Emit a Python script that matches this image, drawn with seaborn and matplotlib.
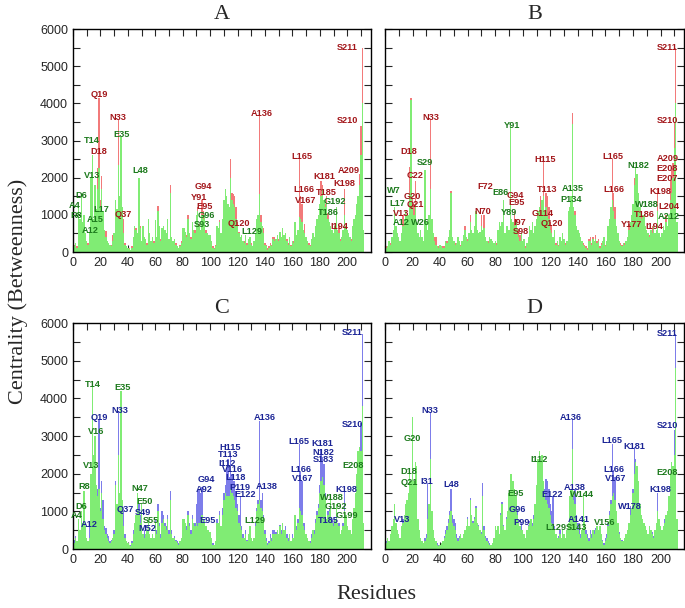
import pandas as pd
import seaborn as sns
import matplotlib.pyplot as plt
from matplotlib.ticker import MultipleLocator

residues = list(range(1, 213))

# panel A : green = first network, red = second
A_green = [150, 250, 100, 1250, 900, 1500, 800, 1000, 500, 300,
           200, 550, 2000, 2600, 900, 1800, 1150, 1700, 2250, 1200,
           1700, 1100, 600, 400, 300, 250, 200, 150, 300, 500,
           1400, 1150, 2350, 1500, 3100, 1200, 500, 200, 150, 100,
           80, 60, 100, 400, 700, 600, 500, 2000, 650, 300,
           700, 400, 350, 200, 900, 500, 300, 400, 250, 850,
           400, 1100, 700, 300, 650, 700, 600, 500, 900, 350,
           1600, 400, 300, 350, 200, 150, 100, 150, 250, 650,
           650, 550, 400, 900, 500, 350, 800, 600, 500, 1000,
           1100, 700, 600, 1000, 900, 1000, 500, 500, 450, 450,
           300, 100, 80, 150, 700, 650, 800, 500, 900, 1400,
           1700, 1500, 1300, 1200, 2000, 1400, 1300, 1200, 900, 700,
           500, 400, 450, 300, 250, 450, 200, 350, 400, 200,
           150, 300, 500, 900, 1000, 1550, 800, 700, 500, 200,
           150, 50, 100, 200, 150, 350, 300, 350, 450, 300,
           550, 400, 650, 450, 500, 300, 200, 400, 150, 300,
           250, 800, 450, 600, 950, 900, 800, 600, 500, 400,
           300, 200, 150, 350, 500, 400, 700, 900, 1000, 1300,
           1500, 1700, 1400, 1200, 1300, 900, 800, 700, 600, 500,
           700, 1200, 600, 500, 300, 400, 600, 1000, 700, 600,
           500, 400, 300, 700, 900, 1000, 1300, 1500, 1800, 2600,
           4000, 600]
A_red = [200, 200, 150, 1000, 800, 1300, 700, 900, 400, 300,
         250, 500, 1600, 2000, 800, 1500, 1000, 2250, 4150, 1400,
         2050, 1000, 550, 570, 250, 200, 150, 200, 450, 400,
         1400, 1000, 3550, 1300, 2400, 1000, 900, 250, 150, 100,
         100, 50, 150, 300, 600, 650, 450, 1500, 700, 250,
         600, 350, 300, 250, 800, 450, 300, 350, 300, 800,
         350, 1250, 650, 350, 600, 650, 550, 450, 800, 300,
         1800, 350, 250, 300, 250, 100, 120, 200, 300, 600,
         600, 500, 450, 1000, 450, 400, 750, 550, 600, 900,
         1200, 750, 550, 1400, 1100, 800, 600, 450, 400, 400,
         250, 150, 100, 200, 650, 600, 850, 450, 800, 1300,
         1700, 1400, 1200, 1100, 2500, 1600, 1550, 1500, 1200, 800,
         550, 350, 400, 300, 300, 400, 250, 300, 350, 250,
         150, 250, 450, 800, 1000, 3650, 1000, 600, 650, 250,
         200, 100, 150, 250, 200, 400, 400, 350, 400, 350,
         500, 350, 600, 400, 450, 350, 250, 350, 200, 250,
         300, 700, 400, 550, 2500, 1500, 1300, 550, 750, 350,
         250, 250, 200, 300, 450, 350, 650, 800, 950, 1200,
         1900, 1800, 1300, 1300, 1500, 1050, 750, 650, 550, 450,
         600, 1000, 550, 700, 350, 350, 550, 1700, 650, 550,
         450, 350, 350, 650, 800, 950, 1200, 1400, 2100, 3400,
         5500, 500]

# panel B
B_green = [100, 150, 300, 200, 400, 600, 1200, 700, 500, 400,
           300, 500, 700, 900, 1100, 1000, 1000, 1600, 4100, 1200,
           1000, 1300, 800, 500, 400, 600, 400, 300, 2200, 800,
           600, 1000, 1700, 900, 500, 300, 200, 150, 100, 200,
           150, 100, 100, 300, 250, 400, 600, 1600, 400, 300,
           200, 250, 400, 300, 150, 300, 450, 600, 400, 300,
           500, 800, 600, 500, 700, 1100, 600, 500, 550, 700,
           600, 650, 400, 300, 250, 400, 350, 300, 250, 300,
           200, 600, 800, 700, 800, 1400, 500, 700, 700, 600,
           3400, 900, 800, 700, 800, 600, 400, 300, 500, 300,
           350, 100, 250, 400, 700, 600, 800, 500, 700, 900,
           1100, 1200, 1000, 1400, 1500, 1100, 1200, 1000, 900, 600,
           500, 400, 600, 200, 300, 150, 400, 300, 500, 350,
           200, 300, 1100, 1200, 1500, 3450, 1200, 1000, 700, 600,
           500, 400, 300, 200, 150, 100, 50, 300, 300, 200,
           350, 300, 350, 250, 300, 100, 200, 300, 400, 150,
           300, 700, 900, 1200, 1400, 1100, 900, 700, 500, 300,
           200, 150, 250, 200, 300, 400, 600, 800, 1000, 1300,
           1800, 2300, 2100, 1600, 1200, 900, 1000, 1000, 700, 600,
           500, 400, 600, 500, 700, 500, 600, 1100, 500, 400,
           500, 700, 600, 800, 700, 1000, 1400, 1600, 2000, 2800,
           4000, 800]
B_red = [150, 100, 250, 250, 350, 500, 1000, 600, 450, 350,
         250, 450, 1000, 800, 1000, 900, 900, 2300, 4150, 1450,
         1300, 1900, 700, 450, 350, 500, 350, 250, 1900, 700,
         550, 900, 3550, 800, 450, 400, 400, 100, 150, 150,
         100, 150, 150, 250, 300, 350, 550, 1650, 350, 250,
         250, 200, 350, 250, 200, 250, 400, 700, 350, 350,
         450, 1000, 550, 450, 650, 1000, 550, 450, 500, 1000,
         550, 1000, 350, 250, 300, 350, 300, 250, 200, 250,
         250, 550, 700, 650, 750, 1300, 450, 650, 650, 550,
         3300, 800, 750, 1100, 900, 550, 600, 450, 450, 250,
         300, 150, 200, 350, 650, 550, 800, 450, 650, 850,
         1000, 1100, 1500, 1300, 2450, 1000, 1600, 1500, 1200, 800,
         700, 350, 550, 250, 250, 200, 350, 250, 450, 300,
         250, 250, 1000, 1100, 1400, 3750, 1100, 1100, 650, 550,
         450, 350, 250, 250, 200, 150, 100, 350, 400, 250,
         400, 250, 450, 300, 350, 150, 250, 250, 350, 200,
         250, 650, 800, 1100, 2500, 1600, 1200, 650, 450, 250,
         250, 200, 200, 250, 250, 350, 750, 750, 900, 1200,
         2000, 2200, 1900, 1500, 1100, 1100, 900, 950, 650, 550,
         450, 450, 550, 700, 650, 450, 550, 1700, 450, 350,
         450, 650, 550, 1000, 650, 900, 1900, 2200, 2400, 3500,
         5500, 700]

# panel C : green vs blue
C_green = [150, 300, 200, 800, 500, 1000, 700, 1550, 600, 300,
           200, 300, 2000, 4300, 2500, 3000, 1700, 1400, 1600, 1000,
           1500, 800, 500, 400, 300, 200, 150, 200, 300, 400,
           1700, 1200, 2500, 1500, 4200, 1300, 600, 300, 200, 150,
           100, 80, 150, 400, 700, 900, 1500, 1000, 700, 1200,
           400, 300, 400, 500, 800, 400, 300, 400, 300, 700,
           400, 1000, 600, 300, 700, 800, 600, 500, 800, 400,
           1300, 400, 300, 300, 200, 150, 100, 200, 300, 800,
           800, 700, 500, 900, 600, 400, 800, 700, 600, 700,
           600, 700, 800, 900, 700, 800, 600, 500, 500, 450,
           300, 100, 100, 200, 700, 700, 900, 600, 900, 1300,
           1500, 1400, 1400, 1400, 1600, 1500, 1400, 1300, 1100, 1000,
           700, 600, 500, 300, 300, 400, 200, 400, 600, 300,
           200, 300, 600, 1000, 1200, 1300, 1100, 1000, 800, 400,
           200, 100, 150, 300, 200, 400, 400, 400, 500, 400,
           600, 400, 700, 500, 500, 300, 200, 400, 200, 300,
           300, 900, 500, 700, 1100, 1000, 900, 600, 500, 400,
           300, 200, 150, 300, 500, 400, 700, 900, 1100, 1500,
           1800, 1900, 1700, 1300, 800, 900, 1000, 1300, 700, 600,
           800, 1200, 700, 600, 400, 500, 600, 1000, 900, 600,
           500, 500, 400, 800, 1100, 1500, 2000, 2600, 2700, 2600,
           3800, 700]
C_blue = [250, 350, 200, 500, 400, 600, 500, 600, 400, 300,
          200, 650, 900, 1000, 1200, 1300, 1400, 1600, 3450, 1100,
          1800, 1300, 600, 550, 400, 350, 200, 250, 300, 500,
          1800, 1100, 3650, 1300, 2000, 1200, 1000, 400, 200, 150,
          100, 100, 200, 500, 600, 700, 1000, 1200, 900, 800,
          400, 500, 350, 400, 600, 350, 300, 400, 300, 800,
          500, 1200, 700, 400, 1000, 900, 700, 600, 900, 500,
          1550, 500, 300, 350, 250, 200, 150, 200, 250, 800,
          700, 700, 600, 1000, 700, 500, 900, 700, 700, 1200,
          1550, 1600, 1500, 1650, 800, 700, 500, 500, 450, 450,
          300, 150, 100, 200, 800, 700, 1000, 600, 1100, 1500,
          1700, 2150, 2400, 1900, 2550, 2000, 1800, 1800, 1550, 1200,
          900, 1400, 600, 400, 300, 500, 250, 400, 500, 300,
          200, 300, 700, 1100, 1300, 3400, 1300, 1500, 900, 500,
          300, 150, 200, 400, 300, 500, 500, 450, 500, 400,
          650, 500, 700, 500, 600, 400, 300, 400, 200, 400,
          300, 900, 600, 800, 2800, 2050, 1800, 700, 700, 400,
          300, 200, 200, 400, 500, 500, 800, 1000, 1200, 1700,
          2650, 2450, 2250, 1500, 700, 1000, 1100, 1400, 800, 700,
          800, 1000, 700, 700, 400, 500, 700, 1550, 800, 600,
          500, 400, 400, 800, 1000, 1400, 1900, 2400, 2500, 3350,
          5700, 700]

# panel D
D_green = [150, 300, 200, 400, 600, 800, 1200, 700, 500, 400,
           300, 600, 700, 900, 1200, 1300, 1500, 2000, 1800, 3500,
           1800, 2300, 2200, 800, 500, 300, 200, 150, 200, 300,
           800, 1200, 2400, 1000, 500, 300, 200, 100, 80, 100,
           150, 200, 300, 400, 500, 700, 900, 1000, 700, 600,
           500, 300, 200, 300, 400, 300, 400, 500, 600, 800,
           600, 1300, 900, 700, 800, 1100, 700, 600, 500, 400,
           1400, 500, 300, 200, 150, 100, 100, 150, 300, 600,
           500, 600, 400, 900, 1200, 600, 500, 800, 1000, 1500,
           2000, 2000, 1800, 1600, 1400, 900, 700, 600, 500, 500,
           400, 300, 500, 600, 700, 800, 600, 800, 1200, 1700,
           2400, 2600, 2300, 2500, 1800, 1500, 1300, 1200, 1100, 900,
           700, 600, 500, 400, 300, 300, 400, 300, 500, 400,
           300, 500, 700, 1400, 1600, 2650, 1300, 1200, 800, 500,
           400, 300, 500, 1500, 800, 400, 300, 200, 400, 300,
           500, 400, 500, 600, 500, 600, 400, 200, 100, 200,
           300, 600, 900, 1200, 1400, 1500, 1300, 1000, 700, 400,
           300, 200, 200, 300, 400, 500, 700, 900, 1100, 1500,
           2000, 2300, 2200, 1800, 1200, 900, 800, 700, 600, 500,
           400, 600, 500, 400, 300, 500, 700, 1000, 800, 600,
           500, 600, 700, 900, 1000, 1400, 2000, 2300, 2200, 2500,
           4800, 800]
D_blue = [200, 250, 150, 300, 500, 700, 900, 600, 500, 350,
          300, 500, 800, 800, 1000, 1200, 1300, 1900, 1700, 3300,
          1700, 2200, 2000, 700, 500, 300, 200, 150, 300, 400,
          1750, 1100, 3650, 900, 500, 300, 200, 150, 100, 100,
          150, 200, 350, 500, 600, 800, 1000, 1600, 900, 800,
          700, 400, 300, 350, 400, 300, 400, 500, 600, 850,
          600, 1350, 900, 750, 850, 1150, 700, 650, 500, 450,
          1750, 600, 350, 300, 200, 150, 100, 150, 300, 600,
          500, 550, 400, 950, 1250, 650, 500, 850, 1000, 1450,
          1900, 2000, 1700, 1500, 1300, 1050, 700, 600, 700, 500,
          400, 300, 500, 650, 750, 800, 700, 900, 1200, 1700,
          2300, 2500, 2300, 2400, 1800, 1600, 1850, 1800, 1600, 1200,
          1000, 1400, 600, 400, 300, 350, 500, 300, 450, 400,
          300, 500, 700, 1400, 1600, 3450, 1400, 1600, 900, 700,
          700, 400, 450, 1400, 700, 500, 400, 300, 500, 400,
          500, 500, 550, 600, 500, 500, 400, 250, 150, 300,
          400, 700, 1000, 1300, 2800, 2100, 1900, 1000, 700, 450,
          300, 250, 200, 300, 400, 500, 700, 1150, 1100, 1600,
          2700, 2400, 2200, 1800, 1200, 900, 800, 700, 600, 500,
          400, 600, 500, 450, 350, 500, 700, 1500, 800, 600,
          500, 600, 800, 900, 1000, 1400, 2000, 2200, 2100, 3150,
          5700, 800]

# residue labels: (text, x, y, colour: g = green, o = other series)
labels_A = [("Q19", 19.5, 4250, "o"), ("N33", 33, 3620, "o"), ("E35", 35.5, 3150, "g"),
            ("T14", 14, 2990, "g"), ("D18", 19, 2700, "o"), ("L48", 49, 2190, "g"),
            ("V13", 14, 2070, "g"), ("D6", 6, 1510, "g"), ("A4", 1, 1260, "g"),
            ("R8", 2, 990, "g"), ("L17", 20.5, 1140, "g"), ("A15", 16, 880, "g"),
            ("Q37", 37, 1020, "o"), ("A12", 12.5, 570, "g"), ("A136", 138, 3730, "o"),
            ("G94", 95, 1750, "o"), ("Y91", 92, 1480, "o"), ("E95", 96, 1220, "o"),
            ("G96", 97.5, 990, "g"), ("S93", 94, 750, "g"), ("Q120", 121, 780, "o"),
            ("L129", 130.5, 540, "g"), ("L165", 167, 2560, "o"), ("L166", 168.5, 1680, "o"),
            ("V167", 170, 1390, "o"), ("K181", 183, 2040, "o"), ("T185", 185, 1590, "o"),
            ("T186", 186, 1050, "g"), ("G192", 191, 1350, "g"), ("I194", 194.5, 675, "o"),
            ("K198", 198, 1840, "o"), ("A209", 201, 2190, "o"), ("S210", 200, 3550, "o"),
            ("S211", 200, 5500, "o")]
labels_B = [("D18", 17.5, 2700, "o"), ("N33", 33, 3630, "o"), ("S29", 29, 2400, "g"),
            ("C22", 22, 2070, "o"), ("W7", 6.6, 1650, "g"), ("G20", 20, 1490, "o"),
            ("L17", 9, 1300, "g"), ("Q21", 22, 1280, "o"), ("V13", 11.5, 1040, "o"),
            ("A12", 11.5, 790, "g"), ("W26", 26, 790, "g"), ("F72", 73, 1770, "o"),
            ("E86", 83.5, 1600, "g"), ("G94", 94.5, 1530, "o"), ("E95", 95.5, 1320, "o"),
            ("N70", 70.7, 1080, "o"), ("Y89", 90, 1050, "g"), ("I97", 98, 790, "o"),
            ("S98", 98.5, 540, "o"), ("Y91", 92, 3400, "g"), ("H115", 116.3, 2480, "o"),
            ("T113", 117.5, 1690, "o"), ("G114", 114.4, 1040, "o"), ("Q120", 121, 780, "o"),
            ("A135", 136.6, 1710, "g"), ("P134", 135.4, 1400, "g"), ("L165", 165.7, 2570, "o"),
            ("L166", 166, 1680, "o"), ("N182", 183.7, 2320, "g"), ("A209", 205, 2520, "o"),
            ("E208", 205, 2250, "o"), ("E207", 205, 1980, "o"), ("K198", 200, 1640, "o"),
            ("W188", 190, 1290, "g"), ("L204", 206, 1220, "o"), ("T186", 188, 1010, "o"),
            ("A212", 206, 950, "g"), ("Y177", 179, 750, "o"), ("I194", 195.5, 680, "o"),
            ("S210", 205, 3540, "o"), ("S211", 205, 5510, "o")]
labels_C = [("T14", 14.5, 4380, "g"), ("E35", 36.5, 4290, "g"), ("Q19", 19.5, 3500, "o"),
            ("N33", 34, 3680, "o"), ("V16", 16.5, 3120, "g"), ("V13", 13, 2230, "g"),
            ("R8", 8, 1660, "g"), ("D6", 6, 1140, "g"), ("A4", 3, 880, "g"),
            ("A12", 12, 640, "o"), ("N47", 49, 1600, "g"), ("E50", 52, 1260, "g"),
            ("Q37", 38, 1050, "o"), ("S49", 51, 975, "o"), ("S55", 56.5, 770, "g"),
            ("M52", 54, 550, "o"), ("G94", 97, 1850, "o"), ("A92", 95.5, 1570, "o"),
            ("E95", 98, 770, "o"), ("H115", 114.5, 2700, "o"), ("T113", 113, 2500, "o"),
            ("I112", 112.5, 2280, "o"), ("V116", 116.5, 2100, "o"), ("L118", 118.5, 1900, "o"),
            ("P119", 121.5, 1630, "o"), ("E122", 125.5, 1460, "o"), ("A138", 141, 1660, "o"),
            ("A136", 140, 3490, "o"), ("L129", 132.5, 770, "g"), ("L165", 165, 2850, "o"),
            ("L166", 166.5, 2100, "o"), ("V167", 167.5, 1880, "o"), ("K181", 182, 2810, "o"),
            ("N182", 182.5, 2560, "o"), ("S183", 182.5, 2370, "o"), ("S211", 204, 5740, "o"),
            ("S210", 203.5, 3300, "o"), ("E208", 204, 2210, "g"), ("K198", 199, 1570, "o"),
            ("W188", 189, 1370, "g"), ("G192", 192, 1140, "g"), ("G199", 200, 900, "g"),
            ("T185", 186, 770, "o")]
labels_D = [("N33", 32.5, 3680, "o"), ("G20", 19.8, 2940, "g"), ("D18", 17.6, 2060, "g"),
            ("Q21", 18, 1770, "g"), ("I31", 30.6, 1790, "o"), ("L48", 48, 1720, "o"),
            ("V13", 12.8, 790, "o"), ("E95", 95, 1480, "g"), ("G96", 96, 1050, "o"),
            ("P99", 98.8, 710, "o"), ("I112", 112, 2380, "g"), ("E122", 121.5, 1460, "o"),
            ("A138", 137.5, 1640, "o"), ("W144", 143, 1450, "g"), ("A136", 135, 3490, "o"),
            ("A141", 140.5, 790, "o"), ("L129", 124, 580, "g"), ("S143", 139, 580, "g"),
            ("V156", 159.5, 710, "g"), ("L165", 165, 2870, "o"), ("K181", 181, 2720, "o"),
            ("L166", 166, 2100, "o"), ("V167", 167.5, 1880, "o"), ("W178", 178, 1140, "o"),
            ("K198", 199.5, 1570, "o"), ("E208", 205, 2040, "g"), ("S210", 205, 3270, "o"),
            ("S211", 205, 5720, "o")]

GREEN = "#80ec74"
RED = "#f27a7a"
BLUE = "#7d7dea"
TXT_GREEN = "#1d7a1d"
TXT_RED = "#a3161a"
TXT_BLUE = "#1c2596"

sns.set_style("ticks")
plt.rcParams["font.family"] = ["Liberation Sans", "DejaVu Sans"]


def draw_panel(ax, back, front, back_col, txt_col, labels, title, show_y):
    df = pd.DataFrame({"res": residues, "back": back, "front": front})
    sns.barplot(data=df, x="res", y="back", native_scale=True, width=1,
                color=back_col, saturation=1, errorbar=None, linewidth=0, ax=ax)
    sns.barplot(data=df, x="res", y="front", native_scale=True, width=1,
                color=GREEN, saturation=1, errorbar=None, linewidth=0, ax=ax)
    for text, x, y, c in labels:
        ax.text(x, y, text, ha="center", va="center", fontsize=6.6, fontweight="bold",
                color=TXT_GREEN if c == "g" else txt_col)
    ax.set_xlim(0, 217)
    ax.set_ylim(0, 6000)
    ax.xaxis.set_major_locator(MultipleLocator(20))
    ax.xaxis.set_minor_locator(MultipleLocator(10))
    ax.yaxis.set_major_locator(MultipleLocator(1000))
    ax.yaxis.set_minor_locator(MultipleLocator(500))
    ax.tick_params(which="both", direction="in", top=True, right=True, labelsize=9,
                   length=5, width=0.8)
    if not show_y:
        ax.set_yticklabels([])
    ax.set_xlabel("")
    ax.set_ylabel("")
    for s in ax.spines.values():
        s.set_linewidth(1.0)
        s.set_color("black")
    ax.set_title(title, fontsize=16, family="Liberation Serif", pad=7)


fig = plt.figure(figsize=(6.85, 6.08), dpi=100)
axA = fig.add_axes([0.1066, 0.5855, 0.4343, 0.3668])
axB = fig.add_axes([0.562, 0.5855, 0.4365, 0.3668])
axC = fig.add_axes([0.1066, 0.097, 0.4343, 0.3717])
axD = fig.add_axes([0.562, 0.097, 0.4365, 0.3717])

draw_panel(axA, A_red, A_green, RED, TXT_RED, labels_A, "A", True)
draw_panel(axB, B_red, B_green, RED, TXT_RED, labels_B, "B", False)
draw_panel(axC, C_blue, C_green, BLUE, TXT_BLUE, labels_C, "C", True)
draw_panel(axD, D_blue, D_green, BLUE, TXT_BLUE, labels_D, "D", False)

fig.text(0.027, 0.52, "Centrality (Betweenness)", rotation=90, ha="center", va="center",
         fontsize=16, family="Liberation Serif")
fig.text(0.549, 0.022, "Residues", ha="center", va="center",
         fontsize=16, family="Liberation Serif")

plt.savefig("out.png", dpi=100)
